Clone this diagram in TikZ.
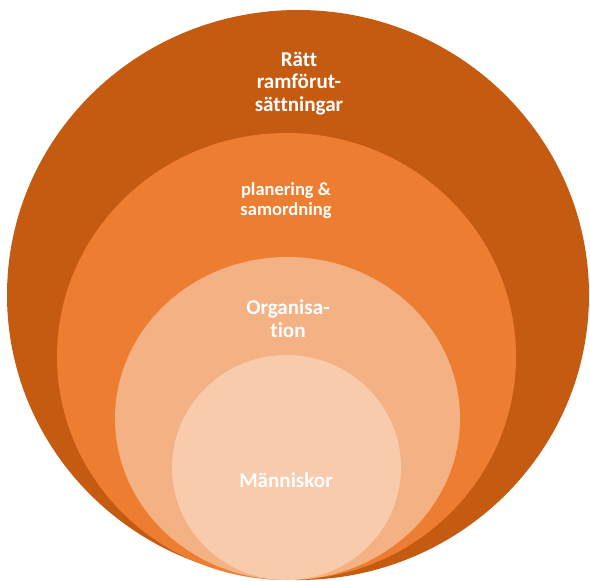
\documentclass[tikz,border=0pt]{standalone}
\usepackage{fontspec}
\setmainfont{Carlito}[Ligatures=NoCommon]
\definecolor{darkorange}{HTML}{C55A11}
\definecolor{orange}{HTML}{ED7D31}
\definecolor{lightorange}{HTML}{F4B183}
\definecolor{paleorange}{HTML}{F8CBAD}

\begin{document}
\begin{tikzpicture}[x=0.03cm,y=-0.03cm,
    every node/.style={align=center,text=white,font=\bfseries\fontsize{18}{19.4}\selectfont},
    small/.style={font=\bfseries\fontsize{15.8}{17}\selectfont}]
      \useasboundingbox (0,0) rectangle (590,580);
      \fill[darkorange] (298,295) ellipse [x radius=291, y radius=285];
      \fill[orange] (286.5,356.5) ellipse [x radius=229.5, y radius=223.5];
      \fill[lightorange] (287.5,418.5) ellipse [x radius=172.5, y radius=161.5];
      \fill[paleorange] (286.5,467.5) ellipse [x radius=114.5, y radius=112.5];
      \draw
        (299,83.5) node (frame) {Rätt\\ramförut-\\sättningar}
        (286,200.5) node[small] (plan) {planering \&\\samordning}
        (288,318.5) node (org) {Organisa-\\tion}
        (286,480) node (people) {Människor};
    \end{tikzpicture}
\end{document}
